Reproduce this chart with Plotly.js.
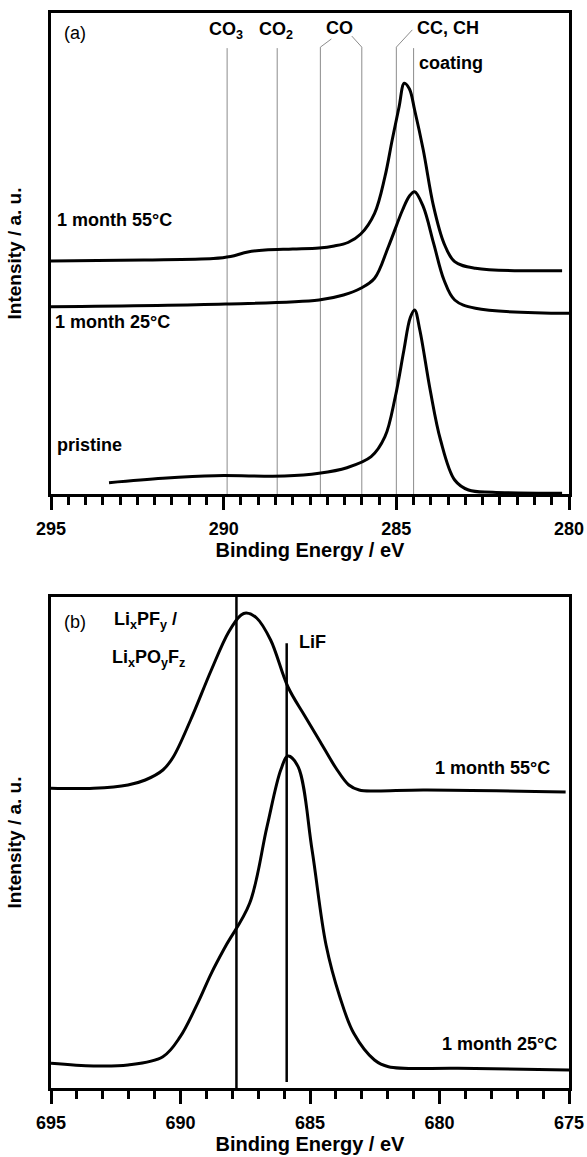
<!DOCTYPE html>
<html>
<head>
<meta charset="utf-8">
<script src="https://cdn.plot.ly/plotly-3.0.1.min.js"></script>
<style>html,body{margin:0;padding:0;background:#fff;}#chart{width:587px;height:1157px;}
#chart .xtick text, #chart .x2tick text{font-weight:700 !important;}</style>
</head>
<body>
<div id="chart"></div>
<script>
// ---------- DATA: panel (a) C 1s ----------
const a55_x = [295.0, 292.3, 290.3, 289.8, 289.3, 288.8, 288.0, 287.24, 286.8, 286.4, 286.03, 285.63, 285.33, 285.12, 284.92, 284.77, 284.62, 284.47, 284.22, 283.92, 283.62, 283.31, 282.71, 280.2];
const a55_y = [233.0, 234.0, 235.5, 237.5, 242.0, 244.0, 245.0, 246.0, 248.0, 251.5, 260.0, 280.7, 317.3, 354.0, 387.3, 410.7, 405.0, 384.0, 344.0, 287.3, 250.7, 232.3, 225.7, 223.3];
const a25_x = [295.0, 289.95, 287.24, 286.53, 286.03, 285.63, 285.23, 284.82, 284.62, 284.47, 284.22, 283.92, 283.62, 283.31, 282.71, 280.0];
const a25_y = [187.3, 190.0, 194.0, 199.0, 205.7, 215.7, 247.3, 284.0, 298.0, 302.3, 287.3, 250.7, 214.0, 194.0, 185.7, 180.7];
const aPr_x = [293.32, 291.76, 290.25, 288.24, 287.24, 286.43, 285.73, 285.33, 285.03, 284.78, 284.6, 284.47, 284.32, 284.02, 283.72, 283.31, 282.91, 282.21, 280.2];
const aPr_y = [11.3, 15.7, 18.3, 18.0, 20.7, 26.3, 37.3, 57.3, 97.3, 144.0, 176.0, 184.0, 164.0, 104.0, 54.0, 14.0, 4.0, 1.7, 0.7];
const aRefE = [289.9, 288.45, 287.2, 286.0, 285.0, 284.5];   // CO3, CO2, CO, CO, CC/CH, coating
const aTicks = [295, 290, 285, 280];

// ---------- DATA: panel (b) F 1s ----------
const b55_x = [695.0, 693.36, 692.03, 691.36, 690.68, 690.28, 689.61, 688.81, 688.14, 687.66, 687.46, 687.06, 686.52, 685.85, 685.2, 684.6, 684.0, 683.5, 683.1, 682.5, 680.63, 675.13];
const b55_y = [299.7, 299.7, 303.0, 308.0, 318.0, 331.0, 368.0, 418.0, 456.0, 473.0, 475.0, 470.0, 448.0, 401.0, 372.0, 346.0, 320.0, 303.0, 298.0, 297.0, 298.0, 296.0];
const b25_x = [695.0, 693.36, 692.03, 690.68, 690.01, 689.34, 688.81, 688.27, 687.33, 686.66, 686.13, 685.85, 685.46, 684.92, 684.38, 683.85, 683.31, 682.51, 681.97, 679.29, 675.0];
const b25_y = [24.7, 22.0, 23.0, 31.3, 51.3, 84.7, 114.7, 141.3, 184.7, 261.3, 318.0, 332.0, 321.3, 238.0, 143.0, 91.3, 54.7, 28.0, 21.3, 19.7, 18.0];
const bRefE = [687.84, 685.9];   // LixPFy/LixPOyFz, LiF
const bTicks = [695, 690, 685, 680, 675];

// ---------- LAYOUT HELPERS ----------
const W = 587, H = 1157;
const px = v => v / W;
const py = v => 1 - v / H;
const FAM = '"Liberation Sans", Arial, sans-serif';
const boldFont = (s) => ({family: FAM, size: s, color: '#000', weight: 700});
const lineStyle = {color: '#000', width: 3, shape: 'spline', smoothing: 1};

const traces = [
  {x: a55_x, y: a55_y, xaxis: 'x', yaxis: 'y', mode: 'lines', line: lineStyle, hoverinfo: 'skip'},
  {x: a25_x, y: a25_y, xaxis: 'x', yaxis: 'y', mode: 'lines', line: lineStyle, hoverinfo: 'skip'},
  {x: aPr_x, y: aPr_y, xaxis: 'x', yaxis: 'y', mode: 'lines', line: lineStyle, hoverinfo: 'skip'},
  {x: b55_x, y: b55_y, xaxis: 'x2', yaxis: 'y2', mode: 'lines', line: lineStyle, hoverinfo: 'skip'},
  {x: b25_x, y: b25_y, xaxis: 'x2', yaxis: 'y2', mode: 'lines', line: lineStyle, hoverinfo: 'skip'}
];

function xAxis(range, ticks, minorStep, anchor) {
  return {
    domain: [px(51), px(569)], range: range, anchor: anchor, autorange: false,
    showline: true, linewidth: 3, linecolor: '#000', mirror: true,
    ticks: 'outside', ticklen: 13, tickwidth: 3, tickcolor: '#000',
    tickmode: 'array', tickvals: ticks, ticktext: ticks.map(t => '<b>' + t + '</b>'),
    ticklabelstandoff: 3,
    minor: {dtick: minorStep, ticks: 'outside', ticklen: 8, tickwidth: 3, tickcolor: '#000', showgrid: false},
    showgrid: false, zeroline: false,
    tickfont: boldFont(18),
    title: {text: '<b>Binding Energy / eV</b>', font: boldFont(20), standoff: 2}
  };
}
function yAxis(range, dom, anchor) {
  return {
    domain: dom, range: range, anchor: anchor, autorange: false,
    showline: true, linewidth: 3, linecolor: '#000', mirror: true,
    ticks: '', showticklabels: false, showgrid: false, zeroline: false,
    title: {text: '<b>Intensity / a. u.</b>', font: boldFont(19), standoff: 22}
  };
}

const grey = {color: '#8c8c8c', width: 1};
const shapes = [];
// panel (a) reference lines
const aTop = [0.927, 0.927, 0.929, 0.929, 0.929, 0.927];
aRefE.forEach((e, i) => {
  shapes.push({type: 'line', xref: 'x', yref: 'y domain', x0: e, x1: e, y0: 0, y1: aTop[i], line: grey, layer: 'below'});
});
// connectors for CO (two lines) and CC,CH
shapes.push({type: 'line', xref: 'x', xsizemode: 'pixel', xanchor: aRefE[2], x0: 0, x1: 11, yref: 'y domain', y0: 0.929, y1: 0.946, line: grey});
shapes.push({type: 'line', xref: 'x', xsizemode: 'pixel', xanchor: aRefE[3], x0: 0, x1: -10, yref: 'y domain', y0: 0.929, y1: 0.952, line: grey});
shapes.push({type: 'line', xref: 'x', xsizemode: 'pixel', xanchor: aRefE[4], x0: 0, x1: 16, yref: 'y domain', y0: 0.929, y1: 0.965, line: grey});
// panel (b) reference lines
shapes.push({type: 'line', xref: 'x2', yref: 'y2 domain', x0: bRefE[0], x1: bRefE[0], y0: 0, y1: 1, line: {color: '#000', width: 2.5}});
shapes.push({type: 'line', xref: 'x2', yref: 'y2 domain', x0: bRefE[1], x1: bRefE[1], y0: 0.012, y1: 0.906, line: {color: '#000', width: 2.5}});

function ann(text, x, y, xanchor, font) {
  return {text: text, xref: 'paper', yref: 'paper', x: px(x), y: py(y), xanchor: xanchor, yanchor: 'middle', showarrow: false, font: font};
}
const regFont = {family: FAM, size: 18, color: '#000'};
const annotations = [
  ann('(a)', 75, 33, 'center', regFont),
  ann('CO<sub>3</sub>', 226, 31, 'center', boldFont(18)),
  ann('CO<sub>2</sub>', 276, 31, 'center', boldFont(18)),
  ann('CO', 339, 28, 'center', boldFont(18)),
  ann('CC, CH', 415, 28, 'left', boldFont(18)),
  ann('coating', 417, 63, 'left', boldFont(18)),
  ann('1 month 55°C', 55, 220, 'left', boldFont(18)),
  ann('1 month 25°C', 53, 322, 'left', boldFont(18)),
  ann('pristine', 55, 445, 'left', boldFont(18)),
  ann('(b)', 75, 622, 'center', regFont),
  ann('Li<sub>x</sub>PF<sub>y</sub> /', 112, 620, 'left', boldFont(18)),
  ann('Li<sub>x</sub>PO<sub>y</sub>F<sub>z</sub>', 110, 658, 'left', boldFont(18)),
  ann('LiF', 297, 642, 'left', boldFont(18)),
  ann('1 month 55°C', 552, 768, 'right', boldFont(18)),
  ann('1 month 25°C', 559, 1044, 'right', boldFont(18))
];

const layout = {
  width: W, height: H, autosize: false,
  margin: {l: 0, r: 0, t: 0, b: 0, pad: 0},
  paper_bgcolor: '#fff', plot_bgcolor: '#fff',
  showlegend: false,
  font: {family: FAM, color: '#000'},
  xaxis: xAxis([295, 280], aTicks, 0.5, 'y'),
  yaxis: yAxis([0, 481], [py(494), py(13)], 'x'),
  xaxis2: xAxis([695, 675], bTicks, 1, 'y2'),
  yaxis2: yAxis([0, 491], [py(1088), py(597)], 'x2'),
  shapes: shapes,
  annotations: annotations
};

Plotly.newPlot('chart', traces, layout, {staticPlot: true, displayModeBar: false});
</script>
</body>
</html>
